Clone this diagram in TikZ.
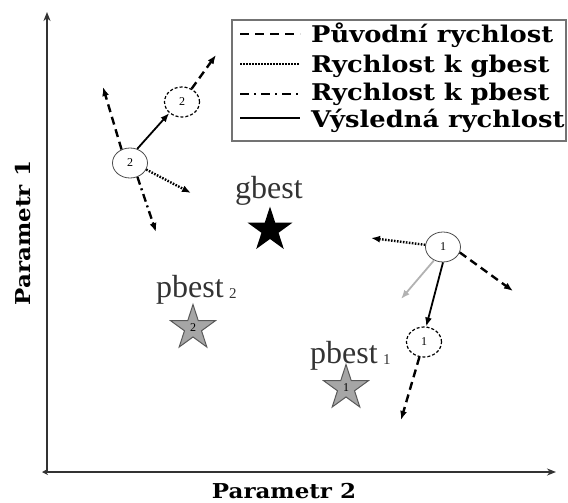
\documentclass[tikz,border=0pt]{standalone}
\usepackage{fontspec}
\setmainfont{Liberation Serif}
\newfontfamily\legendfont[FakeStretch=1.12]{DejaVu Serif}
\usetikzlibrary{arrows.meta,shapes.geometric}

\tikzset{
  tip/.style={-{Latex[length=9pt,width=7pt]}},
  orig/.style={tip, line width=2.4pt, dash pattern=on 8pt off 5pt},
  togb/.style={tip, line width=2.4pt, dash pattern=on 1.6pt off 1.4pt},
  topb/.style={tip, line width=2.4pt, dash pattern=on 8pt off 4pt on 2pt off 4pt},
  result/.style={tip, line width=1.8pt},
  pull/.style={tip, line width=1.8pt, draw=black!30},
  particle/.style={ellipse, draw=black!70, line width=0.8pt, minimum width=35pt,
    minimum height=30pt, inner sep=0pt, font=\fontsize{12}{12}\selectfont},
  ghost/.style={particle, draw=black, line width=1.2pt, dash pattern=on 3pt off 2pt},
  beststar/.style={star, star points=5, star point ratio=2.618, minimum size=47pt,
    inner sep=0pt, font=\fontsize{12}{12}\selectfont},
  pstar/.style={beststar, fill=black!35, draw=black!65, line width=1pt},
  bestlabel/.style={text=black!80, font=\fontsize{32}{32}\selectfont, inner sep=0pt},
  axislabel/.style={font=\legendfont\bfseries\fontsize{20.5}{20.5}\selectfont, inner sep=0pt},
  legendtext/.style={anchor=base west, inner sep=0pt,
    font=\legendfont\bfseries\fontsize{23}{23}\selectfont},
  legendline/.style={line width=2.4pt},
  axis/.style={line width=1.8pt, draw=black!80},
}

\begin{document}
\begin{tikzpicture}[x=1pt,y=-1pt]
\useasboundingbox (0,0) rectangle (568,503);

% axes
\coordinate (o) at (47,472);
\coordinate (ytop) at (47,12);
\coordinate (xleft) at (42,472);
\coordinate (xright) at (556,472);
\draw[axis, -{Stealth[length=9pt,width=7pt]}] (o) -- (ytop);
\draw[axis, {Stealth[length=6pt,width=6pt]}-{Stealth[length=9pt,width=7pt]}] (xleft) -- (xright);
\node[axislabel] (xl) at (284,491) {Parametr 2};
\node[axislabel, rotate=90] (yl) at (23,233) {Parametr 1};

% legend
\node[draw=black!55, line width=1.6pt, minimum width=334pt, minimum height=121pt,
  inner sep=0pt] (legend) at (399,80.5) {};
\coordinate (la1) at (240,34); \coordinate (lb1) at (300,34);
\coordinate (la2) at (240,64); \coordinate (lb2) at (300,64);
\coordinate (la3) at (240,94); \coordinate (lb3) at (300,94);
\coordinate (la4) at (240,118); \coordinate (lb4) at (300,118);
\draw[legendline, dash pattern=on 9pt off 6pt] (la1) -- (lb1);
\draw[legendline, line width=2pt, dash pattern=on 1.5pt off 1.5pt] (la2) -- (lb2);
\draw[legendline, dash pattern=on 9pt off 5pt on 2pt off 5pt] (la3) -- (lb3);
\draw[legendline, line width=2pt] (la4) -- (lb4);
\node[legendtext] (t1) at (311,43) {Původní rychlost};
\node[legendtext] (t2) at (311,73) {Rychlost k gbest};
\node[legendtext] (t3) at (311,101) {Rychlost k pbest};
\node[legendtext] (t4) at (311,127) {Výsledná rychlost};

% best positions
\node[bestlabel] (gbl) at (269,191) {gbest};
\node[beststar, fill=black] (gbest) at (270,230) {};
\node[bestlabel, anchor=base west] (pbl2) at (156,297) {pbest\,\raisebox{-1pt}{\fontsize{15}{15}\selectfont 2}};
\node[pstar] (pb2) at (193,328) {2};
\node[bestlabel, anchor=base west] (pbl1) at (310,363) {pbest\,\raisebox{-1pt}{\fontsize{15}{15}\selectfont 1}};
\node[pstar] (pb1) at (346,388) {1};

% particle 2
\node[particle] (p2) at (130,163) {2};
\node[ghost] (g2) at (182,102) {2};
\coordinate (p2o) at (103,87);
\coordinate (p2g) at (191,193);
\coordinate (p2p) at (156,232);
\coordinate (g2o) at (216,55);
\draw[orig] (p2.122) -- (p2o);
\draw[togb] (p2.-22) -- (p2g);
\draw[topb] (p2.-62) -- (p2p);
\draw[result] (p2.63) -- (g2.221);
\draw[orig] (g2.54) -- (g2o);

% particle 1
\node[particle] (p1) at (443,247) {1};
\node[ghost] (g1) at (424,342) {1};
\coordinate (p1g) at (371,238);
\coordinate (p1o) at (513,291);
\coordinate (p1p) at (401,299);
\coordinate (g1o) at (401,420);
\draw[togb] (p1.173) -- (p1g);
\draw[orig] (p1.-18) -- (p1o);
\draw[pull] (p1.236) -- (p1p);
\draw[result] (p1.-90) -- (g1.82);
\draw[orig] (g1.-107) -- (g1o);
\end{tikzpicture}
\end{document}
